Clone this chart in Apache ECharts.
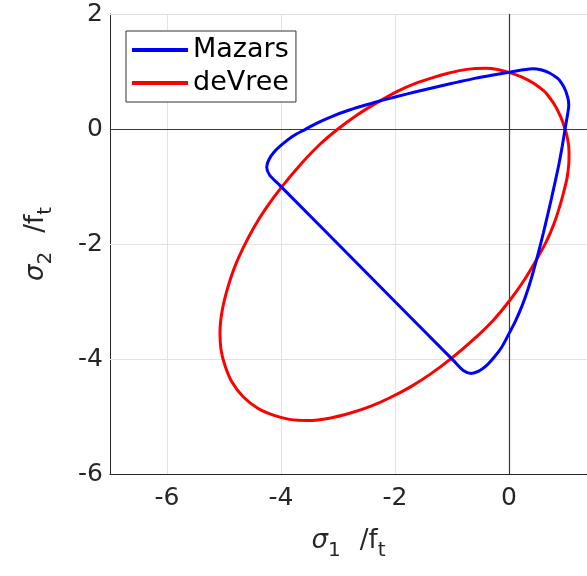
<!DOCTYPE html>
<html>
<head>
<meta charset="utf-8">
<script src="https://cdn.jsdelivr.net/npm/echarts@6/dist/echarts.min.js"></script>
<style>html,body{margin:0;padding:0;background:#fff;}#c{width:587px;height:576px;}</style>
</head>
<body>
<div id="c"></div>
<script>
// Mazars curve (sigma1/ft, sigma2/ft)
const mazarsS1 = [0.87, 0.72, 0.56, 0.42, 0.2, 0, -0.3, -0.6, -0.9, -1.2, -1.5, -1.8, -2.16, -2.5, -2.8, -3.09, -3.35, -3.58, -3.8, -3.97, -4.12, -4.21, -4.25, -4.2, -4.02, -2.5, -0.98, -0.8, -0.66, -0.53, -0.4, -0.26, -0.13, -0.01, 0.11, 0.225, 0.33, 0.422, 0.515, 0.606, 0.678, 0.748, 0.815, 0.88, 0.935, 0.985, 1.02, 1.05, 1.03, 0.97, 0.87];
const mazarsS2 = [0.87, 0.97, 1.03, 1.05, 1.02, 0.985, 0.935, 0.88, 0.815, 0.748, 0.678, 0.606, 0.515, 0.422, 0.33, 0.225, 0.11, -0.01, -0.13, -0.26, -0.4, -0.53, -0.66, -0.8, -0.98, -2.5, -4.02, -4.2, -4.25, -4.21, -4.12, -3.97, -3.8, -3.58, -3.35, -3.09, -2.8, -2.5, -2.16, -1.8, -1.5, -1.2, -0.9, -0.6, -0.3, 0, 0.2, 0.42, 0.56, 0.72, 0.87];
// deVree curve
const devreeS1 = [0.64, 0.44, 0.22, 0, -0.2, -0.4, -0.62, -0.85, -1.1, -1.35, -1.65, -1.95, -2.33, -2.67, -3.0, -3.32, -3.66, -3.99, -4.25, -4.48, -4.67, -4.82, -4.94, -5.03, -5.07, -5.05, -4.98, -4.86, -4.66, -4.4, -4.12, -3.85, -3.52, -3.15, -2.78, -2.42, -2.08, -1.72, -1.36, -1.01, -0.62, -0.27, 0.0, 0.24, 0.45, 0.66, 0.79, 0.89, 0.96, 1.02, 1.05, 1.055, 1.035, 0.985, 0.905, 0.79, 0.64];
const devreeS2 = [0.64, 0.79, 0.905, 0.985, 1.035, 1.055, 1.05, 1.02, 0.96, 0.89, 0.79, 0.66, 0.45, 0.24, 0.0, -0.27, -0.62, -1.01, -1.36, -1.72, -2.08, -2.42, -2.78, -3.15, -3.52, -3.85, -4.12, -4.4, -4.66, -4.86, -4.98, -5.05, -5.07, -5.03, -4.94, -4.82, -4.67, -4.48, -4.25, -3.99, -3.66, -3.32, -3.0, -2.67, -2.33, -1.95, -1.65, -1.35, -1.1, -0.85, -0.62, -0.4, -0.2, 0, 0.22, 0.44, 0.64];
const xTicks = [-6, -4, -2, 0];
const yTicks = [-6, -4, -2, 0, 2];
const seriesNames = ['Mazars', 'deVree'];

const zip = (a, b) => a.map((v, i) => [v, b[i]]);
const FONT = 'DejaVu Sans';
const chart = echarts.init(document.getElementById('c'));

const gridLinesX = xTicks.filter(v => v !== 0).map(v => ({xAxis: v}));
const gridLinesY = yTicks.filter(v => v !== 0 && v !== -6).map(v => ({yAxis: v}));

const nameRich = {
  s: {fontFamily: FONT, fontStyle: 'italic', fontSize: 26, color: '#262626', verticalAlign: 'top'},
  sub: {fontFamily: FONT, fontSize: 20, color: '#262626', verticalAlign: 'top', padding: [13, 0, 0, 0]},
  n: {fontFamily: FONT, fontSize: 26, color: '#262626', verticalAlign: 'top', padding: [0, 0, 0, 19]}
};

chart.setOption({
  animation: false,
  backgroundColor: '#fff',
  grid: {left: 110, top: 14, right: 0, height: 460, containLabel: false},
  legend: {
    orient: 'vertical', left: 126, top: 31,
    data: seriesNames,
    icon: 'rect', itemWidth: 56, itemHeight: 4, itemGap: 5,
    padding: [5, 7, 5, 6],
    borderColor: '#333', borderWidth: 1, backgroundColor: '#fff',
    textStyle: {fontFamily: FONT, fontSize: 27, color: '#000', lineHeight: 28}
  },
  xAxis: {
    type: 'value', min: -7, max: 1.37,
    axisLine: {show: true, onZero: false, lineStyle: {color: '#262626', width: 1}},
    axisTick: {show: true, inside: true, length: 5, customValues: xTicks, lineStyle: {color: '#262626'}},
    axisLabel: {customValues: xTicks, fontFamily: FONT, fontSize: 25, color: '#262626', margin: 12},
    splitLine: {show: false},
    name: '{s|σ}{sub|1}{n|/f}{sub|t}',
    nameLocation: 'middle', nameGap: 54,
    nameTextStyle: {rich: nameRich}
  },
  yAxis: {
    type: 'value', min: -6, max: 2, interval: 2,
    axisLine: {show: true, onZero: false, lineStyle: {color: '#262626', width: 1}},
    axisTick: {show: true, inside: true, length: 5, lineStyle: {color: '#262626'}},
    axisLabel: {fontFamily: FONT, fontSize: 25, color: '#262626', margin: 7},
    splitLine: {show: false},
    name: '{s|σ}{sub|2}{n|/f}{sub|t}',
    nameLocation: 'middle', nameGap: 54, nameRotate: 90,
    nameTextStyle: {rich: nameRich}
  },
  series: [
    {
      type: 'line', data: [], silent: true, z: 1,
      markLine: {
        z: 1, silent: true, symbol: 'none', label: {show: false}, animation: false,
        lineStyle: {color: '#e2e2e2', width: 1, type: 'solid'},
        data: gridLinesX.concat(gridLinesY)
      }
    },
    {
      type: 'line', data: [], silent: true, z: 2,
      markLine: {
        z: 2, silent: true, symbol: 'none', label: {show: false}, animation: false,
        lineStyle: {color: '#3a3a3a', width: 1.2, type: 'solid'},
        data: [{xAxis: 0}, {yAxis: 0}]
      }
    },
    {
      name: seriesNames[0], type: 'line', z: 4,
      data: zip(mazarsS1, mazarsS2),
      symbol: 'none', smooth: 0.3,
      lineStyle: {color: '#0000ff', width: 3}, itemStyle: {color: '#0000ff'}
    },
    {
      name: seriesNames[1], type: 'line', z: 3,
      data: zip(devreeS1, devreeS2),
      symbol: 'none', smooth: 0.3,
      lineStyle: {color: '#ff0000', width: 3}, itemStyle: {color: '#ff0000'}
    }
  ]
});
</script>
</body>
</html>
